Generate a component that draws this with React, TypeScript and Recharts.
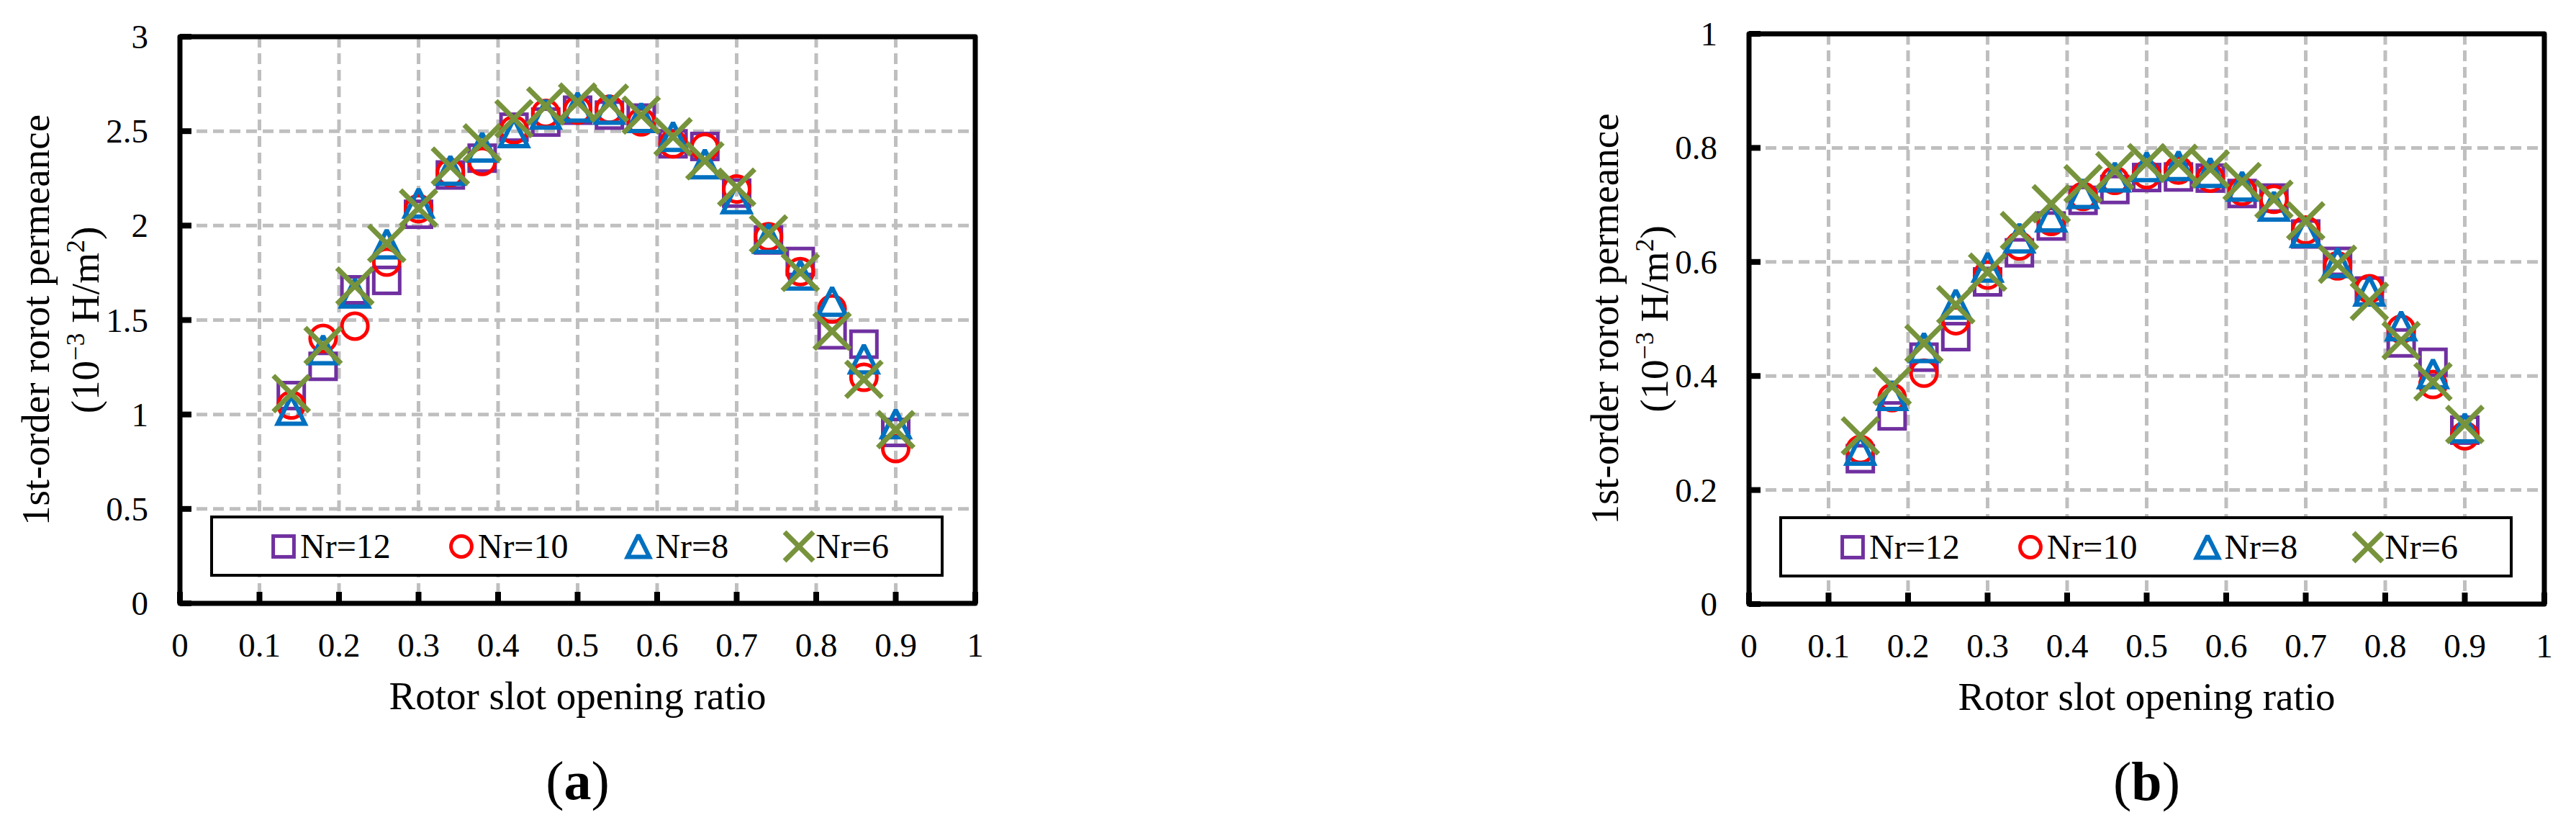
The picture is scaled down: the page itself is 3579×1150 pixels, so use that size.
import React from 'react'
import { ScatterChart, Scatter, XAxis, YAxis, CartesianGrid, ReferenceArea, Legend, Label } from 'recharts'

const FONT = '"Liberation Serif", "Times New Roman", Times, serif'

// rotor slot opening ratio (shared by both panels)
const ratio = [0.14, 0.18, 0.22, 0.26, 0.3, 0.34, 0.38, 0.42, 0.46, 0.5, 0.54, 0.58, 0.62, 0.66, 0.7, 0.74, 0.78, 0.82, 0.86, 0.9]

// panel (a)
const nr12A = [1.1, 1.255, 1.66, 1.71, 2.06, 2.268, 2.357, 2.521, 2.548, 2.611, 2.585, 2.569, 2.433, 2.419, 2.172, 1.924, 1.81, 1.422, 1.372, 0.905]
const nr10A = [1.05, 1.403, 1.468, 1.807, 2.09, 2.281, 2.34, 2.507, 2.594, 2.612, 2.616, 2.549, 2.433, 2.414, 2.194, 1.941, 1.756, 1.559, 1.197, 0.82]
const nr8A = [1.02, 1.34, 1.64, 1.9, 2.117, 2.29, 2.413, 2.489, 2.587, 2.625, 2.613, 2.569, 2.469, 2.324, 2.139, 1.93, 1.735, 1.596, 1.291, 0.948]
const nr6A = [1.11, 1.365, 1.68, 1.906, 2.093, 2.315, 2.438, 2.566, 2.633, 2.654, 2.648, 2.585, 2.47, 2.343, 2.203, 1.956, 1.752, 1.441, 1.186, 0.92]

// panel (b)
const nr12B = [0.255, 0.33, 0.433, 0.469, 0.565, 0.616, 0.663, 0.708, 0.727, 0.748, 0.749, 0.747, 0.72, 0.712, 0.649, 0.601, 0.549, 0.458, 0.424, 0.305]
const nr10B = [0.271, 0.362, 0.405, 0.497, 0.577, 0.628, 0.671, 0.715, 0.743, 0.753, 0.761, 0.747, 0.724, 0.71, 0.656, 0.593, 0.553, 0.482, 0.385, 0.295]
const nr8B = [0.269, 0.365, 0.449, 0.525, 0.59, 0.641, 0.678, 0.719, 0.748, 0.766, 0.768, 0.756, 0.732, 0.697, 0.651, 0.598, 0.548, 0.487, 0.403, 0.308]
const nr6B = [0.295, 0.382, 0.457, 0.525, 0.582, 0.655, 0.702, 0.737, 0.76, 0.774, 0.773, 0.763, 0.741, 0.71, 0.672, 0.596, 0.531, 0.462, 0.39, 0.315]

const seriesNames = ['Nr=12', 'Nr=10', 'Nr=8', 'Nr=6']
const seriesColors = ['#7030A0', '#FF0000', '#0070C0', '#77933C']
const seriesKinds = ['square', 'circle', 'triangle', 'cross']

const xTicks = [0, 0.1, 0.2, 0.3, 0.4, 0.5, 0.6, 0.7, 0.8, 0.9, 1]
const yTicksA = [0, 0.5, 1, 1.5, 2, 2.5, 3]
const yTicksB = [0, 0.2, 0.4, 0.6, 0.8, 1]

const toPoints = (ys: number[]) => ratio.map((x, i) => ({ x, y: ys[i] }))

const Marker = ({ kind, cx, cy, color, s = 1 }: any) => {
  if (kind === 'square') {
    return <rect x={cx - 18 * s} y={cy - 18 * s} width={36 * s} height={36 * s} fill="none" stroke={color} strokeWidth={5} />
  }
  if (kind === 'circle') {
    return <circle cx={cx} cy={cy} r={18 * s} fill="none" stroke={color} strokeWidth={5} />
  }
  if (kind === 'triangle') {
    const pts = `${cx},${cy - 20 * s} ${cx + 19 * s},${cy + 18 * s} ${cx - 19 * s},${cy + 18 * s}`
    return <polygon points={pts} fill="none" stroke={color} strokeWidth={6} strokeLinejoin="miter" strokeMiterlimit={2} />
  }
  const d = 25 * s
  return (
    <g stroke={color} strokeWidth={7}>
      <line x1={cx - d} y1={cy - d} x2={cx + d} y2={cy + d} />
      <line x1={cx - d} y1={cy + d} x2={cx + d} y2={cy - d} />
    </g>
  )
}

const XTick = (props: any) => {
  const { x, y, payload } = props
  return (
    <g>
      <line x1={x} y1={y} x2={x} y2={y - 16} stroke="#000" strokeWidth={8} />
      <text x={x} y={y + 74} textAnchor="middle" fontSize={47} fontFamily={FONT} fill="#000">{payload.value}</text>
    </g>
  )
}

const YTick = (props: any) => {
  const { x, y, payload } = props
  return (
    <g>
      <line x1={x} y1={y} x2={x + 16} y2={y} stroke="#000" strokeWidth={8} />
      <text x={x - 44} y={y + 16} textAnchor="end" fontSize={47} fontFamily={FONT} fill="#000">{payload.value}</text>
    </g>
  )
}

const YTitle = ({ viewBox }: any) => {
  const axisX = viewBox.x + viewBox.width
  const cy = viewBox.y + viewBox.height / 2
  const x1 = axisX - 182
  const x2 = axisX - 113
  return (
    <g fontFamily={FONT} fill="#000">
      <text x={x1} y={cy} transform={`rotate(-90 ${x1} ${cy})`} textAnchor="middle" fontSize={55}>1st-order rorot permeance</text>
      <text x={x2} y={cy} transform={`rotate(-90 ${x2} ${cy})`} textAnchor="middle" fontSize={55}>
        (10<tspan dy={-20} fontSize={36}>−3</tspan><tspan dy={20}> H/m</tspan><tspan dy={-20} fontSize={36}>2</tspan><tspan dy={20}>)</tspan>
      </text>
    </g>
  )
}

const XTitle = ({ viewBox, caption }: any) => {
  const cx = viewBox.x + viewBox.width / 2
  const top = viewBox.y
  return (
    <g fontFamily={FONT} fill="#000">
      <text x={cx} y={top + 147} textAnchor="middle" fontSize={55}>Rotor slot opening ratio</text>
      <text x={cx} y={top + 272} textAnchor="middle" fontSize={76}>(<tspan fontWeight="bold">{caption}</tspan>)</text>
    </g>
  )
}

const LegendBox = () => (
  <div
    style={{
      boxSizing: 'border-box',
      width: 1019,
      height: 85,
      border: '4px solid #000',
      background: '#fff',
      display: 'flex',
      alignItems: 'center',
      paddingLeft: 80,
      fontFamily: FONT,
      fontSize: 48,
      color: '#000',
    }}
  >
    {seriesNames.map((n, i) => (
      <div key={n} style={{ display: 'flex', alignItems: 'center', marginRight: 80 }}>
        <svg width={36} height={36} style={{ overflow: 'visible' }}>
          <Marker kind={seriesKinds[i]} cx={18} cy={18} color={seriesColors[i]} s={0.8} />
        </svg>
        <span style={{ marginLeft: 5, lineHeight: 1 }}>{n}</span>
      </div>
    ))}
  </div>
)

type PanelProps = {
  series: number[][]
  yMax: number
  yTicks: number[]
  caption: string
  margin: { top: number; right: number; bottom: number; left: number }
  xHeight: number
  legendLeft: number
  legendTop: number
}

const Panel = ({ series, yMax, yTicks, caption, margin, xHeight, legendLeft, legendTop }: PanelProps) => (
  <ScatterChart width={1790} height={1150} margin={margin}>
    <CartesianGrid stroke="#BFBFBF" strokeWidth={5} strokeDasharray="15 8" />
    <XAxis
      type="number"
      dataKey="x"
      domain={[0, 1]}
      ticks={xTicks}
      interval={0}
      height={xHeight}
      tickSize={0}
      tickMargin={0}
      tickLine={false}
      axisLine={false}
      tick={(p: any) => <XTick {...p} />}
    >
      <Label content={(p: any) => <XTitle {...p} caption={caption} />} />
    </XAxis>
    <YAxis
      type="number"
      dataKey="y"
      domain={[0, yMax]}
      ticks={yTicks}
      interval={0}
      width={250}
      tickSize={0}
      tickMargin={0}
      tickLine={false}
      axisLine={false}
      tick={(p: any) => <YTick {...p} />}
    >
      <Label content={(p: any) => <YTitle {...p} />} />
    </YAxis>
    {series.map((ys, i) => (
      <Scatter
        key={seriesNames[i]}
        name={seriesNames[i]}
        data={toPoints(ys)}
        isAnimationActive={false}
        shape={(p: any) => <Marker kind={seriesKinds[i]} cx={p.cx} cy={p.cy} color={seriesColors[i]} />}
      />
    ))}
    <ReferenceArea x1={0} x2={1} y1={0} y2={yMax} fill="none" stroke="#000" strokeWidth={7} strokeLinejoin="round" />
    <Legend
      layout="horizontal"
      verticalAlign="middle"
      align="center"
      width={1019}
      height={85}
      wrapperStyle={{ left: legendLeft, top: legendTop, width: 1019, height: 85 }}
      content={() => <LegendBox />}
    />
  </ScatterChart>
)

export default function App() {
  return (
    <div style={{ position: 'absolute', left: 0, top: 0, width: 3579, height: 1150, background: '#fff', fontFamily: FONT }}>
      <div style={{ position: 'absolute', left: 0, top: 0 }}>
        <Panel
          series={[nr12A, nr10A, nr8A, nr6A]}
          yMax={3}
          yTicks={yTicksA}
          caption="a"
          margin={{ top: 51, right: 435, bottom: 0, left: 0 }}
          xHeight={312}
          legendLeft={292}
          legendTop={716}
        />
      </div>
      <div style={{ position: 'absolute', left: 1790, top: 0 }}>
        <Panel
          series={[nr12B, nr10B, nr8B, nr6B]}
          yMax={1}
          yTicks={yTicksB}
          caption="b"
          margin={{ top: 47, right: 45, bottom: 0, left: 390 }}
          xHeight={311}
          legendLeft={682}
          legendTop={717}
        />
      </div>
    </div>
  )
}
